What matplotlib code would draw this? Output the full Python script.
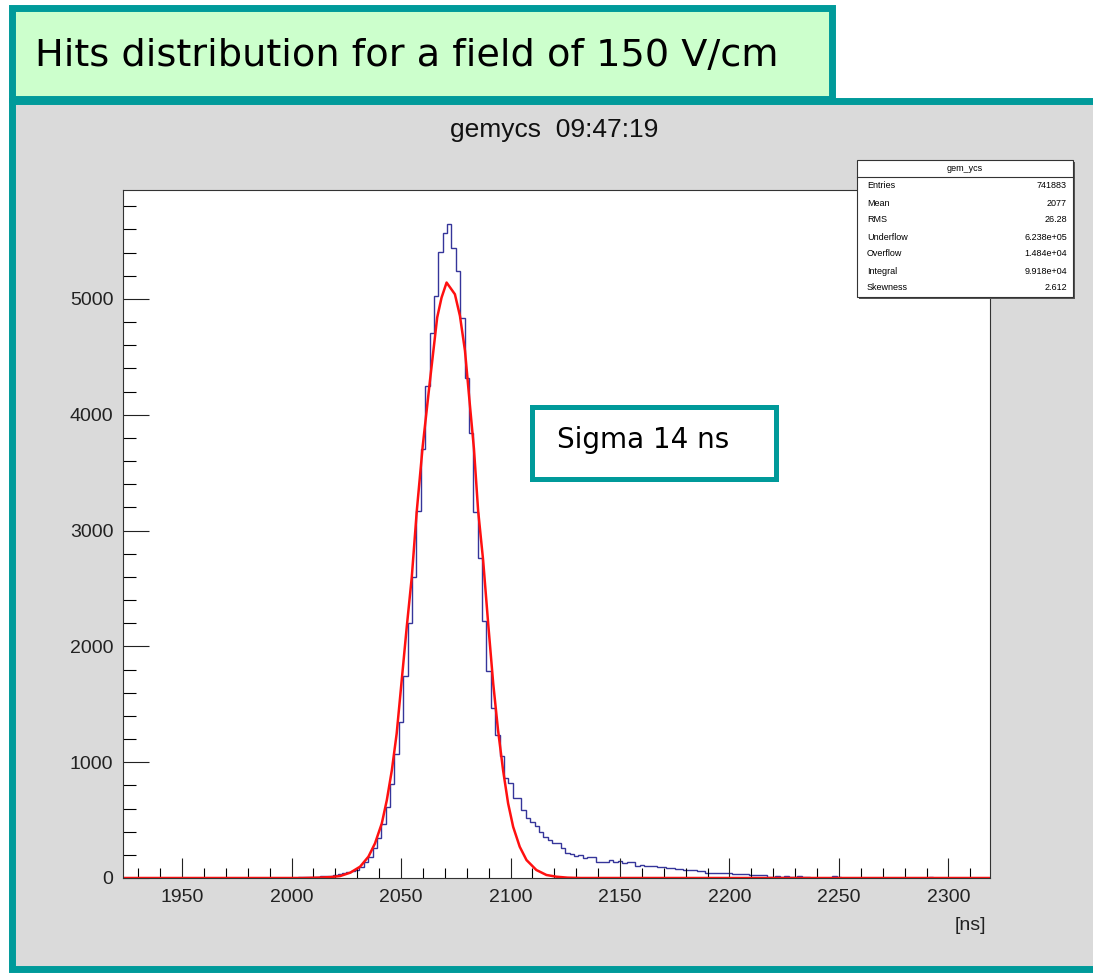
import matplotlib
matplotlib.use("Agg")
import matplotlib.pyplot as plt
import matplotlib.patches as patches
import numpy as np

W, H = 1093, 974
TEAL = "#009a9a"
GREEN = "#ccffcc"
CANVAS = "#dadada"
HIST_COLOR = "#35359a"
FIT_COLOR = "#ff1010"

NARROW = ["Liberation Sans Narrow", "Liberation Sans", "DejaVu Sans"]
HAND = ["DejaVu Sans"]

# histogram (2 ns bins, first bin starts at 2001 ns)
HIST_FIRST_EDGE = 2001
BIN_WIDTH = 2
hist_counts = [
    0, 8, 10, 10, 12, 12, 14, 16, 20, 26,
    32, 40, 48, 58, 72, 98, 135, 184, 256, 342,
    466, 609, 810, 1069, 1348, 1741, 2204, 2598, 3172, 3707,
    4244, 4707, 5026, 5405, 5571, 5650, 5442, 5241, 4839, 4319,
    3845, 3164, 2761, 2216, 1787, 1468, 1233, 1054, 865, 822,
    692, 690, 586, 514, 485, 448, 394, 356, 328, 302,
    300, 256, 213, 207, 190, 198, 175, 184, 184, 141,
    141, 141, 155, 141, 146, 126, 135, 135, 106, 110,
    106, 106, 104, 97, 97, 89, 89, 75, 75, 69,
    69, 66, 63, 60, 46, 46, 46, 46, 44, 40,
    34, 34, 34, 32, 30, 26, 26, 24, 9, 9,
    15, 12, 14, 8, 12, 14, 6, 12, 4, 0,
    2, 0, 3, 15, 12, 0, 2, 0, 3, 0,
    2, 0, 0, 3, 0, 2, 0, 0, 2, 0,
    0, 3, 0, 0, 0, 10, 2, 0, 0, 0,
]

# gaussian fit curve
fit_x = [1923, 2005, 2012, 2018, 2022.2, 2026.8, 2031.3, 2035.1, 2038.1, 2041.2,
         2043.5, 2045.8, 2048.0, 2050.3, 2052.6, 2054.9, 2057.2, 2059.9, 2063.2, 2066.5,
         2068.5, 2070.8, 2074.6, 2076.9, 2079.2, 2081.4, 2083.3, 2085.2, 2087.5, 2089.8,
         2092.1, 2094.3, 2096.6, 2098.9, 2101.2, 2104.2, 2107.3, 2111.8, 2116.4, 2121,
         2126, 2132, 2319]
fit_y = [0, 0, 3, 8, 17, 46, 98, 184, 299, 471,
         672, 931, 1247, 1707, 2167, 2598, 3172, 3730, 4293, 4839,
         5011, 5141, 5040, 4853, 4552, 4092, 3704, 3172, 2741, 2195,
         1678, 1276, 931, 644, 442, 270, 155, 69, 26, 11,
         3, 0, 0]

stats_names = ["Entries", "Mean", "RMS", "Underflow", "Overflow", "Integral", "Skewness"]
stats_values = ["741883", "2077", "26.28", "6.238e+05", "1.484e+04", "9.918e+04", "2.612"]


def fx(x):
    return x / W


def fy(y):
    return 1 - y / H


def box(fig, x0, y0, x1, y1, **kw):
    r = patches.Rectangle((fx(x0), fy(y1)), (x1 - x0) / W, (y1 - y0) / H,
                          transform=fig.transFigure, **kw)
    fig.add_artist(r)
    return r


fig = plt.figure(figsize=(W / 100, H / 100), dpi=100, facecolor="white")

# outer teal frame + grey ROOT canvas
box(fig, 11.5, 100.5, 1110, 968.5, facecolor=CANVAS, edgecolor=TEAL, linewidth=5, zorder=-5)
# title banner
box(fig, 11.5, 8.5, 832, 99, facecolor=GREEN, edgecolor=TEAL, linewidth=5, zorder=-4)
fig.text(fx(35), fy(56), "Hits distribution for a field of 150 V/cm", family=HAND,
         fontsize=27.5, ha="left", va="center", color="black")

fig.text(fx(554), fy(130), "gemycs  09:47:19", family=NARROW, fontsize=19,
         ha="center", va="center", color="#111111")

ax = fig.add_axes([fx(123), fy(878), (990 - 123) / W, (878 - 190) / H])
ax.set_facecolor("white")

edges = HIST_FIRST_EDGE + BIN_WIDTH * np.arange(len(hist_counts) + 1)
ax.stairs(hist_counts, edges, baseline=None, color=HIST_COLOR, linewidth=1.0)
ax.plot(fit_x, fit_y, color=FIT_COLOR, linewidth=1.8)

ax.set_xlim(1923, 2319)
ax.set_ylim(0, 5940)
ax.set_xticks(np.arange(1950, 2301, 50))
ax.set_xticks(np.arange(1930, 2319, 10), minor=True)
ax.set_yticks(np.arange(0, 5001, 1000))
ax.set_yticks(np.arange(0, 5900, 200), minor=True)
ax.tick_params(axis="x", which="major", direction="in", length=14.5, width=0.8, pad=8)
ax.tick_params(axis="x", which="minor", direction="in", length=7.2, width=0.8)
ax.tick_params(axis="y", which="major", direction="in", length=18.5, width=0.8, pad=7)
ax.tick_params(axis="y", which="minor", direction="in", length=9, width=0.8)
ax.tick_params(colors="#222222", labelsize=14)
for lab in ax.get_xticklabels() + ax.get_yticklabels():
    lab.set_family(NARROW)
for sp in ax.spines.values():
    sp.set_color("#333333")
    sp.set_linewidth(0.8)

fig.text(fx(986), fy(926), "[ns]", family=NARROW, fontsize=14, ha="right",
         va="center", color="#222222")

# stats box
box(fig, 859, 162, 1075, 299, facecolor="#555555", edgecolor="none", zorder=4)
box(fig, 857, 160, 1073, 297, facecolor="white", edgecolor="#333333", linewidth=0.8, zorder=5)
fig.add_artist(plt.Line2D([fx(857), fx(1073)], [fy(177), fy(177)], transform=fig.transFigure,
                          color="#333333", linewidth=0.8, zorder=6))
fig.text(fx(965), fy(168.5), "gem_ycs", family=NARROW, fontsize=6.5, ha="center",
         va="center", zorder=7)
for i, (name, val) in enumerate(zip(stats_names, stats_values)):
    yy = 186 + i * 17
    fig.text(fx(867), fy(yy), name, family=NARROW, fontsize=6.5, ha="left", va="center", zorder=7)
    fig.text(fx(1067), fy(yy), val, family=NARROW, fontsize=6.5, ha="right", va="center", zorder=7)

# annotation box
box(fig, 532, 407, 775.5, 478.5, facecolor="white", edgecolor=TEAL, linewidth=3.6, zorder=5)
fig.text(fx(557), fy(440), "Sigma 14 ns", family=HAND, fontsize=20, ha="left",
         va="center", zorder=7)

fig.savefig("out.png", dpi=100, facecolor="white")
